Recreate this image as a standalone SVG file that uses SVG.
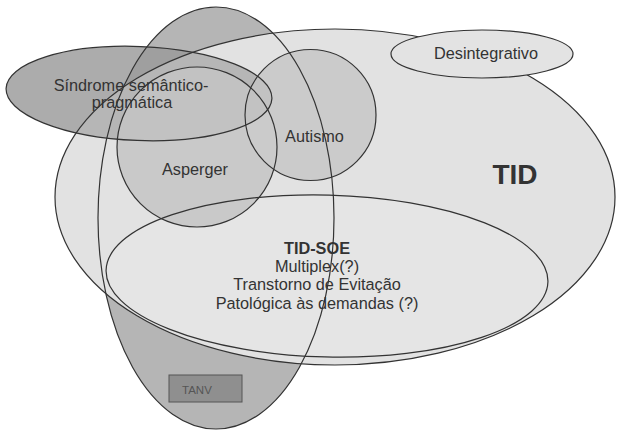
<svg xmlns="http://www.w3.org/2000/svg" xmlns:xlink="http://www.w3.org/1999/xlink" width="624" height="434" viewBox="0 0 624 434">
<style>
.ol{fill:none;stroke:#333;stroke-width:1.2}
.lb{font-family:"Liberation Sans",Arial,sans-serif;font-size:16.3px;fill:#333;text-anchor:middle}
.bd{font-weight:bold}
</style>
<defs>
<ellipse id="tall" cx="216" cy="218" rx="118" ry="211"/>
<ellipse id="synd" cx="139" cy="93.5" rx="133" ry="47" transform="rotate(2.2 139 93.5)"/>
<ellipse id="tid" cx="335" cy="197" rx="280" ry="168"/>
<ellipse id="desint" cx="482" cy="54" rx="91" ry="24"/>
<ellipse id="soe" cx="327" cy="276" rx="221" ry="81" transform="rotate(1.5 327 276)"/>
<circle id="asp" cx="197" cy="147" r="80"/>
<circle id="aut" cx="310.5" cy="115" r="65.5"/>
<clipPath id="cSynd"><use xlink:href="#synd"/></clipPath>
<clipPath id="cTid"><use xlink:href="#tid"/></clipPath>
</defs>
<rect width="624" height="434" fill="#fff"/>
<g id="fills">
<use xlink:href="#tall" fill="#b5b5b5"/>
<use xlink:href="#synd" fill="#acacac"/>
<use xlink:href="#tall" fill="#9f9f9f" clip-path="url(#cSynd)"/>
<use xlink:href="#tid" fill="#e2e2e2"/>
<use xlink:href="#synd" fill="#b6b6b6" clip-path="url(#cTid)"/>
<use xlink:href="#soe" fill="#e5e5e5"/>
<use xlink:href="#asp" fill="#c9c9c9"/>
<use xlink:href="#asp" fill="#c2c2c2" clip-path="url(#cSynd)"/>
<use xlink:href="#aut" fill="#cbcbcb"/>
<use xlink:href="#aut" fill="#c2c2c2" clip-path="url(#cSynd)"/>
</g>
<g id="connectors"/>
<g id="node-tall"><use xlink:href="#tall" class="ol"/></g>
<g id="node-tid"><use xlink:href="#tid" class="ol"/>
<text x="515" y="184" class="lb bd" style="font-size:28px">TID</text></g>
<g id="node-desint"><use xlink:href="#desint" fill="#e3e3e3"/><use xlink:href="#desint" class="ol"/>
<text x="486" y="59" class="lb">Desintegrativo</text></g>
<g id="node-synd"><use xlink:href="#synd" class="ol"/>
<text x="131" y="91" class="lb">Síndrome semântico-</text>
<text x="132" y="108" class="lb">pragmática</text></g>
<g id="node-asp"><use xlink:href="#asp" class="ol"/>
<text x="195" y="175" class="lb">Asperger</text></g>
<g id="node-aut"><use xlink:href="#aut" class="ol"/>
<text x="314.5" y="142" class="lb">Autismo</text></g>
<g id="node-soe"><use xlink:href="#soe" class="ol"/>
<text x="317" y="254" class="lb bd">TID-SOE</text>
<text x="317" y="272" class="lb">Multiplex(?)</text>
<text x="317" y="290" class="lb">Transtorno de Evitação</text>
<text x="317" y="309" class="lb">Patológica às demandas (?)</text></g>
<g id="node-tanv"><rect x="169" y="375" width="73" height="27" fill="#8f8f8f" stroke="#555" stroke-width="1"/>
<text x="182" y="394" style="font-family:'Liberation Sans',Arial,sans-serif;font-size:11.5px;fill:#555">TANV</text></g>
</svg>
